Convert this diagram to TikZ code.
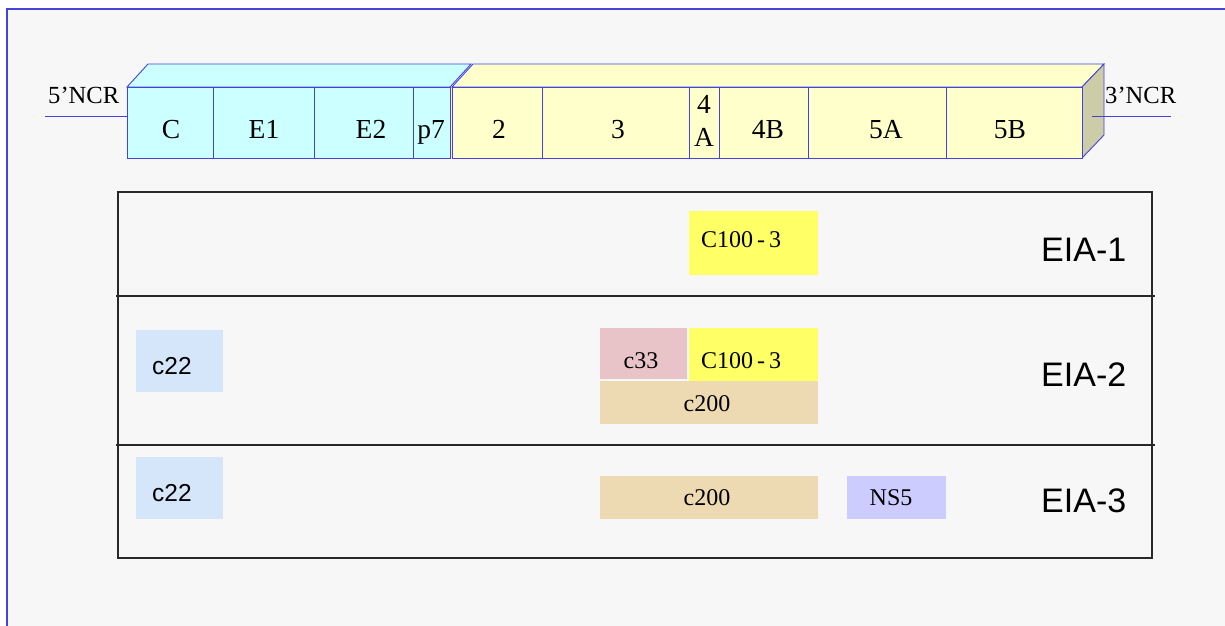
\documentclass[tikz,border=0pt]{standalone}
\usepackage{fontspec}
\setmainfont{Liberation Serif}
\setsansfont{Liberation Sans}
\definecolor{edge}{RGB}{68,68,221}
\definecolor{cyanfill}{RGB}{204,255,255}
\definecolor{yelfill}{RGB}{255,255,204}
\definecolor{sidefill}{RGB}{204,204,166}
\definecolor{pagebg}{RGB}{247,247,247}
\definecolor{c100col}{RGB}{255,255,102}
\definecolor{c33col}{RGB}{232,196,200}
\definecolor{c200col}{RGB}{237,218,178}
\definecolor{c22col}{RGB}{213,230,250}
\definecolor{ns5col}{RGB}{204,204,255}
\definecolor{tblcol}{RGB}{40,40,40}
\begin{document}
\begin{tikzpicture}[x=1pt,y=-1pt,
  seg/.style={draw=edge,line width=0.9pt,line join=miter},
  lbl/.style={inner sep=0pt,anchor=base,font=\fontsize{27.5}{32}\selectfont},
  ncr/.style={inner sep=0pt,anchor=base west,font=\fontsize{24.6}{28}\selectfont},
  antigen/.style={draw=none,inner sep=0pt,anchor=north west},
  alab/.style={inner sep=0pt,anchor=base,font=\fontsize{24}{28}\selectfont},
  slab/.style={inner sep=0pt,anchor=base west,font=\sffamily\fontsize{24.5}{28}\selectfont},
  eia/.style={inner sep=0pt,anchor=base west,font=\sffamily\fontsize{34}{38}\selectfont},
  tbl/.style={draw=tblcol,line width=1.3pt}]
\useasboundingbox (0,0) rectangle (1225,625);
\fill[white] (0,0) rectangle (1225,625);
\begin{scope}
  \clip (0,0) rectangle (1225,625);
  \draw[fill=pagebg,draw=edge,line width=1.5pt] (7,9) rectangle (1240,640);
\end{scope}

% 5' untranslated region
\coordinate (n5a) at (45,116);
\coordinate (n5b) at (127,116);
\draw[edge,line width=0.9pt] (n5a) -- (n5b);
\node[ncr] (ncr5) at (48,103) {5’NCR};

% structural proteins block
\draw[seg,fill=cyanfill] (127,87) -- (148,64) -- (471,64) -- (450,87) -- cycle;
\draw[seg,fill=cyanfill] (127,87) rectangle (450,158);
\foreach \x in {213,314,413} \draw[seg] (\x,87) -- (\x,158);

% non-structural proteins block
\draw[seg,fill=yelfill] (452,87) -- (473,64) -- (1104,64) -- (1082,87) -- cycle;
\draw[seg,fill=sidefill] (1082,87) -- (1104,64) -- (1104,135) -- (1082,158) -- cycle;
\draw[seg,fill=yelfill] (452,87) rectangle (1082,158);
\foreach \x in {542,689,719,808,946} \draw[seg] (\x,87) -- (\x,158);

% 3' untranslated region
\coordinate (n3a) at (1092,116);
\coordinate (n3b) at (1171,116);
\draw[edge,line width=0.9pt] (n3a) -- (n3b);
\node[ncr] (ncr3) at (1105,103) {3’NCR};

% gene labels
\node[lbl] (gC)  at (171,138) {C};
\node[lbl] (gE1) at (264,138) {E1};
\node[lbl] (gE2) at (371,138) {E2};
\node[lbl] (gp7) at (431,138) {p7};
\node[lbl] (g2)  at (499,138) {2};
\node[lbl] (g3)  at (618,138) {3};
\node[lbl] (g4a) at (704,113) {4};
\node[lbl] (g4b) at (704,146) {A};
\node[lbl] (g4B) at (768,138) {4B};
\node[lbl] (g5A) at (886,138) {5A};
\node[lbl] (g5B) at (1010,138) {5B};

% assay table
\draw[tbl] (118,192) rectangle (1152,558);
\draw[tbl] (116,296) -- (1155,296);
\draw[tbl] (116,445) -- (1155,445);

% EIA-1 antigens
\node[antigen,fill=c100col,minimum width=129pt,minimum height=64pt] (r1c100) at (689,211) {};
\node[alab] (t1c100) at (741,247) {C100\,-\,3};
\node[eia] (eia1) at (1041,261) {EIA-1};

% EIA-2 antigens
\node[antigen,fill=c22col,minimum width=87pt,minimum height=62pt] (r2c22) at (136,330) {};
\node[slab] (t2c22) at (152,374) {c22};
\node[antigen,fill=c33col,minimum width=87pt,minimum height=51pt] (r2c33) at (600,328) {};
\node[alab] (t2c33) at (641,368) {c33};
\node[antigen,fill=c100col,minimum width=129pt,minimum height=53pt] (r2c100) at (689,328) {};
\node[alab] (t2c100) at (741,368) {C100\,-\,3};
\node[antigen,fill=c200col,minimum width=218pt,minimum height=43pt] (r2c200) at (600,381) {};
\node[alab] (t2c200) at (707,411) {c200};
\node[eia] (eia2) at (1041,386) {EIA-2};

% EIA-3 antigens
\node[antigen,fill=c22col,minimum width=87pt,minimum height=62pt] (r3c22) at (136,457) {};
\node[slab] (t3c22) at (152,501) {c22};
\node[antigen,fill=c200col,minimum width=218pt,minimum height=43pt] (r3c200) at (600,476) {};
\node[alab] (t3c200) at (707,505) {c200};
\node[antigen,fill=ns5col,minimum width=99pt,minimum height=43pt] (r3ns5) at (847,476) {};
\node[alab] (t3ns5) at (891,505) {NS5};
\node[eia] (eia3) at (1041,512) {EIA-3};
\end{tikzpicture}
\end{document}
